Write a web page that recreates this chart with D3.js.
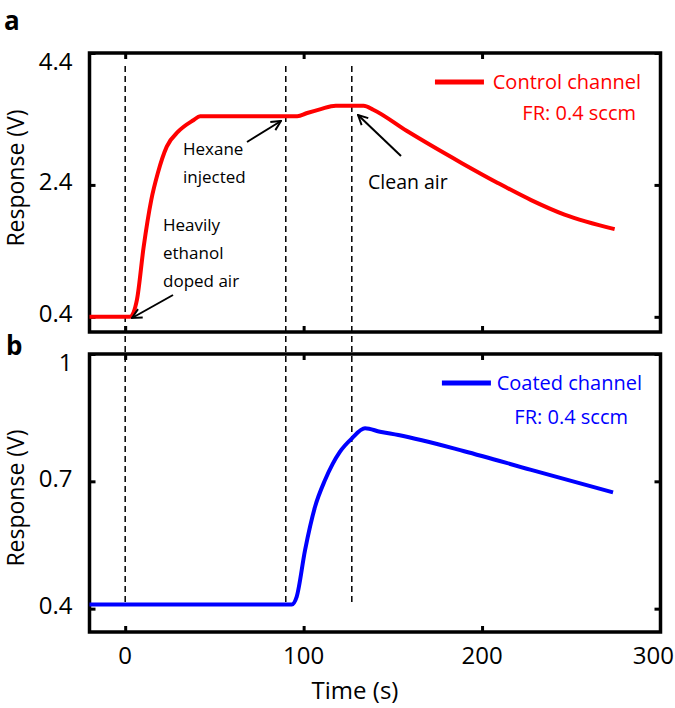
<!DOCTYPE html>
<html>
<head>
<meta charset="utf-8">
<script src="https://cdn.jsdelivr.net/npm/d3@7"></script>
<style>
body { margin: 0; background: #fff; }
text { font-family: "Open Sans", sans-serif; }
</style>
</head>
<body>
<script>
// control channel (red)
let redT = [-20, 2.8, 6.6, 10.3, 14.6, 18.3, 23.3, 29.8, 38.2, 42, 96.4, 102, 109.6, 118, 133.6, 139, 157.7, 171.3, 188.7, 208.8, 227.5, 246.2, 274.3]
let redV = [0.4, 0.4, 0.66, 1.45, 2.17, 2.58, 2.98, 3.21, 3.38, 3.44, 3.44, 3.49, 3.55, 3.6, 3.6, 3.54, 3.22, 3.0, 2.73, 2.43, 2.17, 1.95, 1.73]
// coated channel (blue)
let blueT = [-20, 93.4, 96.1, 100.8, 106.4, 112, 120.4, 127, 134.4, 142.8, 153.1, 190, 227.5, 273.4]
let blueV = [0.41, 0.41, 0.428, 0.538, 0.64, 0.703, 0.77, 0.801, 0.825, 0.817, 0.809, 0.771, 0.727, 0.674]
let xTicks = [0, 100, 200, 300]
let topTicks = [0.4, 2.4, 4.4]
let botTicks = [0.4, 0.7, 1]
let events = [0, 90, 127]

let w = 675, h = 708
let svg = d3.select("body").append("svg").attr("width", w).attr("height", h)

let x = d3.scaleLinear().domain([-20, 300]).range([89.5, 660.5])
let yTop = d3.scaleLinear().domain([0.17, 4.4]).range([332, 53])
let yBot = d3.scaleLinear().domain([0.345, 1]).range([632, 354])

let line = (ys) => d3.line().x(d => x(d[0])).y(d => ys(d[1])).curve(d3.curveMonotoneX)

function panel(ys, ticks, top, bottom) {
    let g = svg.append("g")
    // inward ticks on all four sides
    g.append("g").attr("transform", `translate(0,${bottom})`)
        .call(d3.axisBottom(x).tickValues(xTicks.slice(0, 3)).tickSizeInner(-6).tickSizeOuter(0).tickFormat(""))
    g.append("g").attr("transform", `translate(0,${top})`)
        .call(d3.axisTop(x).tickValues(xTicks.slice(0, 3)).tickSizeInner(-6).tickSizeOuter(0).tickFormat(""))
    g.append("g").attr("transform", `translate(${x.range()[1]},0)`)
        .call(d3.axisRight(ys).tickValues(ticks).tickSizeInner(-6).tickSizeOuter(0).tickFormat(""))
    let left = g.append("g").attr("transform", `translate(${x.range()[0]},0)`)
        .call(d3.axisLeft(ys).tickValues(ticks).tickSizeInner(-6).tickSizeOuter(0).tickPadding(17).tickFormat(d3.format("")))
    g.selectAll(".domain").remove()
    g.selectAll(".tick line").attr("stroke", "#000").attr("stroke-width", 3)
    left.selectAll("text").attr("font-size", 24).attr("font-family", "Open Sans").attr("fill", "#000")
        .attr("dy", d => d == ticks[2] ? "0.7em" : "0.2em")
    g.append("rect").attr("x", x.range()[0]).attr("y", top)
        .attr("width", x.range()[1] - x.range()[0]).attr("height", bottom - top)
        .attr("fill", "none").attr("stroke", "#000").attr("stroke-width", 3.5)
    return g
}

panel(yTop, topTicks, 53, 332)
panel(yBot, botTicks, 354, 632)

// event markers span both panels
svg.selectAll(".event").data(events).enter().append("line")
    .attr("x1", d => x(d)).attr("x2", d => x(d))
    .attr("y1", 66).attr("y2", 606)
    .attr("stroke", "#000").attr("stroke-width", 1.5).attr("stroke-dasharray", "6,4")

svg.append("path").datum(d3.zip(redT, redV)).attr("d", line(yTop))
    .attr("fill", "none").attr("stroke", "#ff0000").attr("stroke-width", 4).attr("stroke-linejoin", "round")
svg.append("path").datum(d3.zip(blueT, blueV)).attr("d", line(yBot))
    .attr("fill", "none").attr("stroke", "#0000ff").attr("stroke-width", 4).attr("stroke-linejoin", "round")

// x axis labels (the last one is pulled in so it stays on the page)
svg.selectAll(".xl").data(xTicks).enter().append("text")
    .attr("x", d => d == 300 ? 674 : x(d)).attr("y", 664)
    .attr("text-anchor", d => d == 300 ? "end" : "middle")
    .attr("font-size", 24).text(d => d)
svg.append("text").attr("x", 355).attr("y", 699).attr("text-anchor", "middle").attr("font-size", 24).text("Time (s)")

// y titles
svg.append("text").attr("transform", "translate(24,178) rotate(-90)").attr("text-anchor", "middle").attr("font-size", 23).text("Response (V)")
svg.append("text").attr("transform", "translate(24,498) rotate(-90)").attr("text-anchor", "middle").attr("font-size", 23).text("Response (V)")

// panel letters
svg.append("text").attr("x", 4).attr("y", 30).attr("font-size", 26).attr("font-weight", "bold").text("a")
svg.append("text").attr("x", 6).attr("y", 355).attr("font-size", 26).attr("font-weight", "bold").text("b")

// legends
function legend(lx, y1, y2, tx1, tx2, color, name) {
    svg.append("line").attr("x1", x(lx)).attr("x2", x(lx) + 49).attr("y1", y1).attr("y2", y1)
        .attr("stroke", color).attr("stroke-width", 5)
    svg.append("text").attr("x", tx1).attr("y", y1 + 7).attr("text-anchor", "end").attr("font-size", 20).attr("fill", color).text(name)
    svg.append("text").attr("x", tx2).attr("y", y2 + 7).attr("text-anchor", "end").attr("font-size", 20).attr("fill", color).text("FR: 0.4 sccm")
}
legend(173.6, 82, 113, 641, 636, "#ff0000", "Control channel")
legend(177.5, 383, 417, 642, 628, "#0000ff", "Coated channel")

// annotations
svg.append("defs").append("marker").attr("id", "arr").attr("viewBox", "0 0 10 10")
    .attr("refX", 9).attr("refY", 5).attr("markerWidth", 6).attr("markerHeight", 6)
    .attr("markerUnits", "strokeWidth").attr("orient", "auto")
    .append("path").attr("d", "M1,1 L9,5 L1,9").attr("fill", "none").attr("stroke", "#000").attr("stroke-width", 1.6)

function note(lines, tx, ty, size, ax1, ay1, ax2, ay2) {
    let t = svg.append("text").attr("font-size", size).attr("fill", "#000")
    lines.forEach((s, i) => t.append("tspan").attr("x", tx).attr("y", ty + i * 28).text(s))
    svg.append("line").attr("x1", ax1).attr("y1", ay1).attr("x2", ax2).attr("y2", ay2)
        .attr("stroke", "#000").attr("stroke-width", 2).attr("marker-end", "url(#arr)")
}
note(["Hexane", "injected"], 183, 155, 17, 247, 142, 281, 121)
note(["Heavily", "ethanol", "doped air"], 163, 231, 17, 173, 295, 132, 318)
note(["Clean air"], 368, 189, 19.5, 401, 156, 358, 115)
</script>
</body>
</html>
